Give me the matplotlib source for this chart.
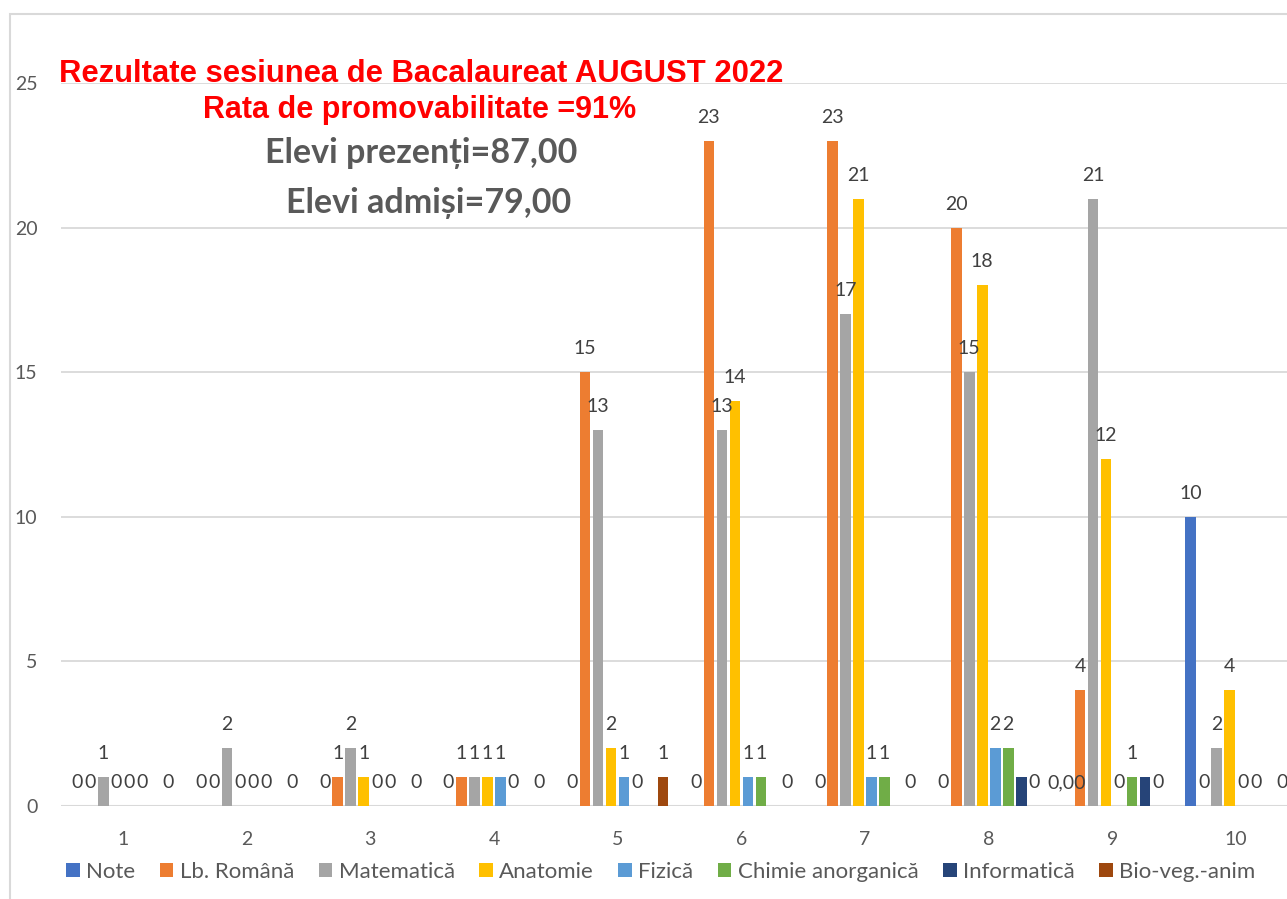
import matplotlib
matplotlib.use("Agg")
import matplotlib.pyplot as plt
from matplotlib.patches import Rectangle
import numpy as np

categories = ["1", "2", "3", "4", "5", "6", "7", "8", "9", "10"]
series_names = ["Note", "Lb. Română", "Matematică", "Anatomie", "Fizică",
                "Chimie anorganică", "Informatică", "Bio-veg.-anim"]
note = [0, 0, 0, 0, 0, 0, 0, 0, 0, 10]
lb_romana = [0, 0, 1, 1, 15, 23, 23, 20, 4, 0]
matematica = [1, 2, 2, 1, 13, 13, 17, 15, 21, 2]
anatomie = [0, 0, 1, 1, 2, 14, 21, 18, 12, 4]
fizica = [0, 0, 0, 1, 1, 1, 1, 2, 0, 0]
chimie = [0, 0, 0, 0, 0, 1, 1, 2, 1, 0]
informatica = [0, 0, 0, 0, 0, 0, 0, 1, 1, 0]
bio = [0, 0, 0, 0, 1, 0, 0, 0, 0, 0]
note_labels = ["0", "0", "0", "0", "0", "0", "0", "0", "0,00", "10"]
yticks = [0, 5, 10, 15, 20, 25]

title_lines = ["Rezultate sesiunea de Bacalaureat AUGUST 2022",
               "Rata de promovabilitate =91%",
               "Elevi prezenți=87,00",
               "Elevi admiși=79,00"]

colors = ["#4472C4", "#ED7D31", "#A5A5A5", "#FFC000", "#5B9BD5",
          "#70AD47", "#264478", "#9E480E"]
all_series = [note, lb_romana, matematica, anatomie, fizica, chimie, informatica, bio]
show_labels = [True, True, True, True, True, True, False, True]

W, H = 1287, 899
fig = plt.figure(figsize=(W / 100, H / 100), dpi=100)
fig.patch.set_facecolor("white")

# chart border
fig.patches.append(Rectangle((9.5 / W, -0.1), 1.2, 1 - 14 / H + 0.1, transform=fig.transFigure,
                             fill=False, edgecolor="#D9D9D9", linewidth=1.5))

ax_left, ax_right = 61, 1298
ax_bottom, ax_top = 806, 83
ax = fig.add_axes([ax_left / W, (H - ax_bottom) / H, (ax_right - ax_left) / W, (ax_bottom - ax_top) / H])
ax.set_xlim(-0.5, len(categories) - 0.5)
ax.set_ylim(0, 25)
for s in ax.spines.values():
    s.set_visible(False)
ax.set_yticks(yticks)
ax.yaxis.grid(True, color="#D9D9D9", linewidth=1.3)
ax.set_axisbelow(True)
ax.axhline(0, color="#D9D9D9", linewidth=1.5, zorder=1)
ax.tick_params(axis="both", length=0, labelsize=14, labelcolor="#595959")
ax.tick_params(axis="y", pad=17)
ax.tick_params(axis="x", pad=18)
for lbl in ax.get_yticklabels() + ax.get_xticklabels():
    lbl.set_family("Lato")

x = np.arange(len(categories))
step = 0.105
width = 0.086
handles = []
for i, (name, vals, col) in enumerate(zip(series_names, all_series, colors)):
    xs = x + (i - 3.5) * step
    bars = ax.bar(xs, vals, width=width, color=col, label=name, zorder=2)
    handles.append(bars)
    if show_labels[i]:
        for j, (xx, v) in enumerate(zip(xs, vals)):
            txt = note_labels[j] if i == 0 else f"{v}"
            ax.annotate(txt, (xx, v), xytext=(0, 13), textcoords="offset points",
                        ha="center", va="baseline", fontsize=14, color="#404040",
                        family="Lato", annotation_clip=False)
ax.set_xticks(x)
ax.set_xticklabels(categories)

leg = fig.legend(handles=handles, labels=series_names, loc="center", ncol=8,
                 bbox_to_anchor=(661 / W, (H - 872) / H), frameon=False,
                 handlelength=0.6, handleheight=0.6, handletextpad=0.3,
                 columnspacing=1.1, prop={"family": "Lato", "size": 16})
for t in leg.get_texts():
    t.set_color("#595959")

# Title texts
fig.text(421 / W, (H - 82) / H, title_lines[0], ha="center", va="baseline",
         fontsize=22.3, fontweight="bold", color="#FF0000", family="Liberation Sans")
fig.text(420 / W, (H - 118) / H, title_lines[1], ha="center", va="baseline",
         fontsize=22, fontweight="bold", color="#FF0000", family="Liberation Sans")
fig.text(421 / W, (H - 163) / H, title_lines[2], ha="center", va="baseline",
         fontsize=24.5, fontweight="bold", color="#595959", family=["Lato", "DejaVu Sans"])
fig.text(429 / W, (H - 213) / H, title_lines[3], ha="center", va="baseline",
         fontsize=24.5, fontweight="bold", color="#595959", family=["Lato", "DejaVu Sans"])

fig.savefig("out.png", dpi=100)
